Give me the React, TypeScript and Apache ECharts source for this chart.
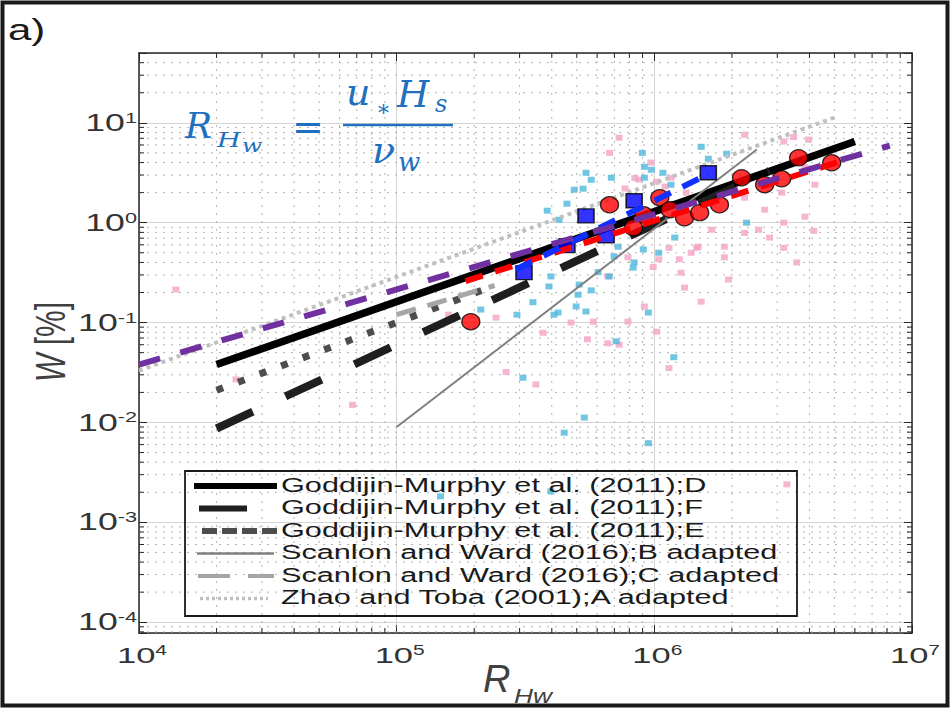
import { useEffect, useRef } from 'react';
import * as echarts from 'echarts';

// ---- axis ranges / ticks ----
const X_MIN = 1e4;
const X_MAX = 1e7;
const Y_MIN = 7.8e-5;
const Y_MAX = 50;
const xDecades = [4, 5, 6, 7];
const yDecades = [-4, -3, -2, -1, 0, 1];
const minorMultipliers = [2, 3, 4, 5, 6, 7, 8, 9];
const xMinorDecades = [4, 5, 6];
const yMinorDecades = [-5, -4, -3, -2, -1, 0, 1];

// ---- measurement points ----
const pinkPoints = [
  [7.3e5, 7.1], [6.7e5, 5.0], [9.7e5, 4.0], [8.7e5, 2.7], [1.02e6, 2.57], [1.16e6, 2.82],
  [2.24e6, 7.6], [3.47e6, 7.2], [3.97e6, 6.8], [3.84e6, 3.6], [3.12e6, 2.0], [2.68e6, 1.35],
  [2.24e6, 1.78], [4.2e6, 2.4], [3.18e6, 1.0], [3.84e6, 1.15], [4.16e6, 0.83], [3.18e6, 0.56],
  [2.54e6, 0.85], [2.8e6, 0.71], [1.87e6, 0.575], [1.87e6, 0.45], [1.94e6, 0.27], [1.52e6, 0.162],
  [1.31e6, 0.224], [1.27e6, 0.316], [1.25e6, 0.43], [1.39e6, 0.5], [1.67e6, 0.85], [1.48e6, 0.575],
  [1.14e6, 0.56], [1.04e6, 0.43], [9.15e5, 0.145], [1.02e6, 0.081], [6.6e5, 0.29], [4.75e5, 0.1],
  [5.8e5, 0.102], [7.3e5, 0.06], [5.5e5, 0.068], [3.7e5, 0.079], [3.57e6, 0.4], [6.9e5, 0.79],
  [2.24e6, 0.79], [3.18e6, 6.5], [1.46e6, 0.56], [9.9e5, 0.36], [7.9e5, 0.45], [7.9e5, 0.102],
  [6.6e5, 0.062], [2.66e5, 0.032], [3.47e5, 0.024], [1.14e6, 0.035], [3.27e6, 0.0024],
  [1.39e4, 0.214], [2.38e4, 0.027], [6.74e4, 0.015], [1.59e5, 0.12], [2.43e5, 0.112],
  [8.4e5, 2.8], [1.1e6, 2.3], [1.33e6, 2.0], [7.7e5, 2.2],
];

const cyanPoints = [
  [3.84e5, 1.32], [4.58e5, 1.55], [5.43e5, 3.16], [5.29e5, 2.19], [6.81e5, 2.82], [8.98e5, 5.0],
  [9.15e5, 3.63], [9.73e5, 3.39], [1.08e6, 3.16], [1.16e6, 2.4], [1.52e6, 5.75], [1.62e6, 4.37],
  [1.91e6, 4.9], [9.06e5, 0.54], [1.04e6, 0.5], [8.35e5, 0.4], [6.98e5, 0.46], [6.05e5, 0.32],
  [6.68e5, 0.29], [5.11e5, 0.24], [3.97e5, 0.29], [3.9e5, 0.23], [5.06e5, 0.19], [3.38e5, 0.16],
  [2.93e5, 0.12], [2.12e5, 0.135], [5.43e5, 0.129], [9.48e5, 0.126], [1.2e6, 0.71], [2.28e6, 1.0],
  [7.24e5, 0.575], [8.28e5, 0.355], [5.69e5, 0.21], [4.97e5, 0.145], [4.23e5, 0.126], [7.11e5, 0.065],
  [1.19e6, 0.045], [4.08e5, 0.12], [3.09e5, 0.028], [5.35e5, 0.0112], [4.47e5, 0.0079],
  [9.48e5, 0.0062], [3.97e5, 0.00204], [1.48e5, 0.00182], [5.69e5, 2.69], [9.15e5, 2.82],
  [4.27e5, 1.07], [4.89e5, 2.14],
];

const redCircles = [
  [1.94e5, 0.102], [6.7e5, 1.51], [8.3e5, 0.89], [9.1e5, 1.2], [1.05e6, 1.78], [1.15e6, 1.35],
  [1.31e6, 1.12], [1.5e6, 1.26], [1.79e6, 1.51], [2.18e6, 2.82], [2.68e6, 2.4], [3.12e6, 2.75],
  [3.63e6, 4.47], [4.88e6, 3.98],
];

const blueSquares = [
  [3.12e5, 0.316], [4.58e5, 0.59], [5.43e5, 1.17], [6.5e5, 0.74], [8.35e5, 1.66], [1.62e6, 3.16],
];

// ---- reference relations (end points) ----
const gmD = [[2e4, 0.038], [6e6, 6.5]];
const gmF = [[2e4, 0.0087], [2.8e6, 3.3]];
const gmE = [[2e4, 0.021], [2.3e5, 0.225]];
const swB = [[1e5, 0.009], [2.5e6, 5.4]];
const swC = [[1e5, 0.12], [2.4e5, 0.235]];
const ztA = [[1e4, 0.033], [5.1e6, 11.5]];
const fitAll = [[1e4, 0.038], [8.2e6, 5.9]];
const fitRed = [[1.85e5, 0.26], [5.7e6, 4.4]];
const fitBlue = [[2.9e5, 0.34], [1.55e6, 2.9]];

const legendLabels = [
  'Goddijin-Murphy et al. (2011);D',
  'Goddijin-Murphy et al. (2011);F',
  'Goddijin-Murphy et al. (2011);E',
  'Scanlon and Ward (2016);B adapted',
  'Scanlon and Ward (2016);C adapted',
  'Zhao and Toba (2001);A adapted',
];

const SANS = '"Liberation Sans", Arial, sans-serif';
const SERIF = '"DejaVu Serif", serif';
const BLUE_TXT = '#2170c0';

function supLabel(d: number) {
  return `{b|10}{s|${d}}`;
}

export default function App() {
  const ref = useRef<HTMLDivElement>(null);

  useEffect(() => {
    if (!ref.current) return;
    const chart = echarts.init(ref.current, null, { renderer: 'svg' });

    const labelRich = {
      b: { fontSize: 23, fontFamily: SANS, fill: '#333333', lineHeight: 24 },
      s: { fontSize: 14, fontFamily: SANS, fill: '#333333', lineHeight: 14, verticalAlign: 'top' },
    };

    const renderFrame = (params: any, api: any) => {
      const cs = params.coordSys;
      const left = cs.x;
      const top = cs.y;
      const right = cs.x + cs.width;
      const bottom = cs.y + cs.height;
      const children: any[] = [];
      const dotted = { stroke: '#b3b3b3', lineWidth: 1, lineDash: [2, 6] };
      const tickStyle = { stroke: '#262626', lineWidth: 1 };
      for (const d of xMinorDecades) {
        for (const m of minorMultipliers) {
          const v = m * Math.pow(10, d);
          if (v <= X_MIN || v >= X_MAX) continue;
          const px = api.coord([v, 1])[0];
          children.push({ type: 'line', shape: { x1: px, y1: top, x2: px, y2: bottom }, style: dotted });
          children.push({ type: 'line', shape: { x1: px, y1: bottom, x2: px, y2: bottom - 5 }, style: tickStyle });
          children.push({ type: 'line', shape: { x1: px, y1: top, x2: px, y2: top + 5 }, style: tickStyle });
        }
      }
      for (const d of yMinorDecades) {
        for (const m of minorMultipliers) {
          const v = m * Math.pow(10, d);
          if (v <= Y_MIN || v >= Y_MAX) continue;
          const py = api.coord([1e5, v])[1];
          children.push({ type: 'line', shape: { x1: left, y1: py, x2: right, y2: py }, style: dotted });
          children.push({ type: 'line', shape: { x1: left, y1: py, x2: left + 5, y2: py }, style: tickStyle });
          children.push({ type: 'line', shape: { x1: right, y1: py, x2: right - 5, y2: py }, style: tickStyle });
        }
      }
      for (const d of xDecades) {
        const px = api.coord([Math.pow(10, d), 1])[0];
        children.push({
          type: 'text', x: px + 3, y: bottom + 10, scaleX: 1.5,
          style: { text: supLabel(d), rich: labelRich, align: 'center', verticalAlign: 'top' },
        });
      }
      for (const d of yDecades) {
        const py = api.coord([1e5, Math.pow(10, d)])[1];
        children.push({
          type: 'text', x: left - 2, y: py, scaleX: 1.55,
          style: { text: supLabel(d), rich: labelRich, align: 'right', verticalAlign: 'middle' },
        });
      }
      return { type: 'group', children };
    };

    const line = (name: string, data: number[][], color: string, width: number, dash: any, z: number) => ({
      type: 'line', name, data, symbol: 'none', showSymbol: false, silent: true, z,
      lineStyle: { color, width, type: dash, cap: 'butt' },
    });

    const legendY = [486, 508.5, 531, 553.5, 576, 598.5];
    const legendLines = [
      { x1: 194, x2: 277, stroke: '#000000', lineWidth: 6, dash: null },
      { x1: 199, x2: 277, stroke: '#1f1f1f', lineWidth: 6, dash: [48, 40] },
      { x1: 202, x2: 277, stroke: '#4d4d4d', lineWidth: 6, dash: [15, 5] },
      { x1: 197, x2: 274, stroke: '#7f7f7f', lineWidth: 2.5, dash: null },
      { x1: 198, x2: 274, stroke: '#a6a6a6', lineWidth: 4, dash: [32, 18] },
      { x1: 200, x2: 268, stroke: '#c0c0c0', lineWidth: 3.5, dash: [3, 3] },
    ];

    const graphics: any[] = [
      { type: 'rect', z: 20, shape: { x: 2.5, y: 2.5, width: 945, height: 703 }, style: { fill: 'none', stroke: '#1a1a1a', lineWidth: 4 } },
      { type: 'text', z: 20, x: 8, y: 30, scaleX: 1.4, style: { text: 'a)', fontSize: 30, fontFamily: SANS, fill: '#1a1a1a', align: 'left', verticalAlign: 'middle' } },
      // formula
      { type: 'text', z: 20, x: 185, y: 125, style: { text: 'R', fontSize: 36, fontStyle: 'italic', fontFamily: SERIF, fill: BLUE_TXT, verticalAlign: 'middle' } },
      { type: 'text', z: 20, x: 217, y: 139.5, scaleX: 1.3, style: { text: 'H', fontSize: 21, fontStyle: 'italic', fontFamily: SERIF, fill: BLUE_TXT, verticalAlign: 'middle' } },
      { type: 'text', z: 20, x: 242, y: 146, scaleX: 1.3, style: { text: 'w', fontSize: 18, fontStyle: 'italic', fontFamily: SERIF, fill: BLUE_TXT, verticalAlign: 'middle' } },
      { type: 'text', z: 20, x: 292, y: 127, style: { text: '=', fontSize: 38, fontFamily: SERIF, fill: BLUE_TXT, verticalAlign: 'middle' } },
      { type: 'line', z: 20, shape: { x1: 343, y1: 125, x2: 453, y2: 125 }, style: { stroke: BLUE_TXT, lineWidth: 2.5 } },
      { type: 'text', z: 20, x: 346, y: 92, style: { text: 'u', fontSize: 38, fontStyle: 'italic', fontFamily: SERIF, fill: BLUE_TXT, verticalAlign: 'middle' } },
      { type: 'text', z: 20, x: 376, y: 108, style: { text: '∗', fontSize: 22, fontFamily: SERIF, fill: BLUE_TXT, verticalAlign: 'middle' } },
      { type: 'text', z: 20, x: 397, y: 94, style: { text: 'H', fontSize: 37, fontStyle: 'italic', fontFamily: SERIF, fill: BLUE_TXT, verticalAlign: 'middle' } },
      { type: 'text', z: 20, x: 435, y: 104, style: { text: 's', fontSize: 24, fontStyle: 'italic', fontFamily: SERIF, fill: BLUE_TXT, verticalAlign: 'middle' } },
      { type: 'text', z: 20, x: 372, y: 150, style: { text: 'ν', fontSize: 38, fontStyle: 'italic', fontFamily: SERIF, fill: BLUE_TXT, verticalAlign: 'middle' } },
      { type: 'text', z: 20, x: 398, y: 162, style: { text: 'w', fontSize: 26, fontStyle: 'italic', fontFamily: SERIF, fill: BLUE_TXT, verticalAlign: 'middle' } },
      // axis titles
      { type: 'text', z: 20, x: 51, y: 342, rotation: Math.PI / 2, scaleY: 1.4,
        style: { text: '{i|W} [%]', fontSize: 30, fontFamily: SANS, fill: '#404040', align: 'center', verticalAlign: 'middle',
          rich: { i: { fontSize: 30, fontStyle: 'italic', fontFamily: SANS, fill: '#404040' } } } },
      { type: 'text', z: 20, x: 483, y: 679, style: { text: 'R', fontSize: 38, fontStyle: 'italic', fontFamily: SANS, fill: '#404040', verticalAlign: 'middle' } },
      { type: 'text', z: 20, x: 514, y: 695, scaleX: 1.25, style: { text: 'Hw', fontSize: 21, fontStyle: 'italic', fontFamily: SANS, fill: '#404040', verticalAlign: 'middle' } },
      // legend
      { type: 'rect', z: 20, shape: { x: 185, y: 471, width: 612, height: 145 }, style: { fill: 'none', stroke: '#1a1a1a', lineWidth: 1.8 } },
    ];
    legendLabels.forEach((lab, i) => {
      const ll = legendLines[i];
      graphics.push({
        type: 'line', z: 20, shape: { x1: ll.x1, y1: legendY[i], x2: ll.x2, y2: legendY[i] },
        style: { stroke: ll.stroke, lineWidth: ll.lineWidth, lineDash: ll.dash || undefined, lineCap: 'butt' },
      });
      graphics.push({
        type: 'text', z: 20, x: 281, y: legendY[i] - 1.5, scaleX: 1.46,
        style: { text: lab, fontSize: 21, fontFamily: SANS, fill: '#1a1a1a', verticalAlign: 'middle' },
      });
    });

    const axisLine = { show: true, onZero: false, lineStyle: { color: '#262626', width: 1.5 } };
    const axisTick = { show: true, inside: true, length: 8, lineStyle: { color: '#262626', width: 1 } };

    chart.setOption({
      animation: false,
      backgroundColor: '#ffffff',
      grid: { left: 139, right: 39, top: 53, bottom: 75, containLabel: false, outerBoundsMode: 'none' },
      xAxis: [
        { type: 'log', min: X_MIN, max: X_MAX, position: 'bottom', axisLine, axisTick,
          axisLabel: { show: false }, splitLine: { show: true, lineStyle: { color: '#d4d4d4', width: 1 } } },
        { type: 'log', min: X_MIN, max: X_MAX, position: 'top', axisLine, axisTick,
          axisLabel: { show: false }, splitLine: { show: false } },
      ],
      yAxis: [
        { type: 'log', min: Y_MIN, max: Y_MAX, position: 'left', axisLine, axisTick,
          axisLabel: { show: false }, splitLine: { show: true, lineStyle: { color: '#d4d4d4', width: 1 } } },
        { type: 'log', min: Y_MIN, max: Y_MAX, position: 'right', axisLine, axisTick,
          axisLabel: { show: false }, splitLine: { show: false } },
      ],
      graphic: graphics,
      series: [
        { type: 'custom', name: 'frame', coordinateSystem: 'cartesian2d', data: [[1e5, 1]], renderItem: renderFrame, silent: true, z: 1 },
        { type: 'scatter', name: 'pink', data: pinkPoints, symbol: 'rect', symbolSize: [7, 6], itemStyle: { color: '#f4a3c4' }, silent: true, z: 2 },
        { type: 'scatter', name: 'cyan', data: cyanPoints, symbol: 'rect', symbolSize: [7, 6], itemStyle: { color: '#4cb8dc' }, silent: true, z: 2 },
        line('Zhao and Toba (2001);A adapted', ztA, '#c0c0c0', 4, [4, 4], 3),
        line('Goddijin-Murphy et al. (2011);D', gmD, '#000000', 7.5, 'solid', 3),
        line('Goddijin-Murphy et al. (2011);E', gmE, '#4d4d4d', 7, [7, 16], 3),
        line('Goddijin-Murphy et al. (2011);F', gmF, '#1f1f1f', 8, [40, 36], 3),
        line('Scanlon and Ward (2016);C adapted', swC, '#a6a6a6', 5, [20, 12], 3),
        line('Scanlon and Ward (2016);B adapted', swB, '#7f7f7f', 2, 'solid', 3),
        { type: 'scatter', name: 'circles', data: redCircles, symbol: 'circle', symbolSize: [18, 16],
          itemStyle: { color: '#ff0000', borderColor: '#000000', borderWidth: 1.3 }, silent: true, z: 4 },
        { type: 'scatter', name: 'squares', data: blueSquares, symbol: 'rect', symbolSize: [16, 14],
          itemStyle: { color: '#0000ff', borderColor: '#000000', borderWidth: 1.5 }, silent: true, z: 4 },
        line('fit red', fitRed, '#ff0000', 6, [18, 13], 5),
        line('fit blue', fitBlue, '#1030ff', 6, [18, 13], 5),
        line('fit all', fitAll, '#7030a0', 6, [22, 21], 5),
      ],
    });

    return () => chart.dispose();
  }, []);

  return (
    <div
      ref={ref}
      style={{ position: 'absolute', left: 0, top: 0, width: 951, height: 708, background: '#ffffff' }}
    />
  );
}
